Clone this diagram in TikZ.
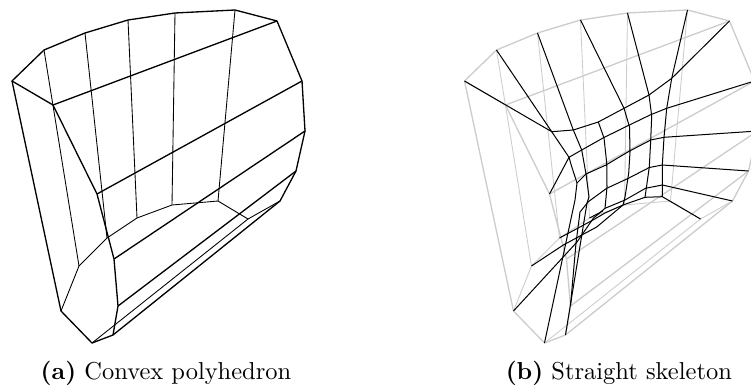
\documentclass[tikz,border=0pt]{standalone}
\usepackage{xcolor}
\usetikzlibrary{positioning}
\definecolor{shellgray}{gray}{0.80}
\tikzset{
  hulledge/.style={line width=0.55pt,line join=round},
  facetedge/.style={line width=0.36pt,line join=round},
  skeledge/.style={line width=0.42pt,black,line join=round},
  caption/.style={anchor=base,inner sep=0pt,font=\fontsize{10.2}{12}\selectfont}
}
\newcommand{\convexhull}{%
  \coordinate (a) at (12,81);  \coordinate (b) at (44,50);
  \coordinate (c) at (85,33);  \coordinate (d) at (128,20);
  \coordinate (e) at (175,13); \coordinate (f) at (235,10);
  \coordinate (g) at (277,21); \coordinate (h) at (302,81);
  \coordinate (i) at (305,131); \coordinate (j) at (296,171);
  \coordinate (k) at (280,201); \coordinate (l) at (113,335);
  \coordinate (m) at (92,343); \coordinate (n) at (61,311);
  \coordinate (p) at (53,105); \coordinate (q) at (97,194);
  \coordinate (r) at (114,259); \coordinate (s) at (118,306);
  \coordinate (u) at (79,266); \coordinate (v) at (107,238);
  \coordinate (w) at (137,218); \coordinate (x) at (172,205);
  \coordinate (y) at (218,201); \coordinate (z) at (248,219);
  \draw[hulledge] (a) -- (b) -- (c) -- (d) -- (e) -- (f) -- (g) -- (h) -- (i) -- (j) -- (k)
    -- (l) -- (m) -- (n) -- cycle;
  \draw[hulledge] (a) -- (p) -- (g);
  \draw[hulledge] (p) -- (q) -- (r) -- (s) -- (l);
  \draw[hulledge] (q) -- (h);
  \draw[hulledge] (r) -- (i);
  \draw[hulledge] (s) -- (j);
  \draw[facetedge] (n) -- (u) -- (v) -- (w) -- (x) -- (y) -- (z) -- (k);
  \draw[facetedge] (z) -- (m);
  \foreach \upper/\lower in {b/u,c/v,d/w,e/x,f/y}
    \draw[facetedge] (\upper) -- (\lower);
}
\begin{document}
\begin{tikzpicture}[x=0.4167pt,y=-0.4167pt]
\clip (0,0) rectangle (751,387);

% LEFT PANEL
\convexhull
\node[caption] (capa) at (166,379) {\textbf{(a)} Convex polyhedron};

% RIGHT PANEL
\begin{scope}[xshift=188.55pt,color=shellgray]
\convexhull
\end{scope}
\node[caption] (capb) at (618.8,379) {\textbf{(b)} Straight skeleton};

% arcs from the outer vertices
\draw[skeledge] (a) -- (551.7,131.7) -- (b);
\draw[skeledge] (551.7,131.7) -- (573.3,130) -- (c);
% rings
\draw[skeledge] (573.3,130) -- (598.3,122) -- (624,108.3) -- (649,95) -- (671.7,78.3) -- (g);
\draw[skeledge] (q) -- (569,157.3) -- (581.7,150) -- (603,138) -- (627.3,126) -- (650,115) -- (666.7,108.3) -- (h);
\draw[skeledge] (569,157.3) -- (551.7,131.7);
\draw[skeledge] (577,183) -- (586,174) -- (606,165) -- (628.3,151.7) -- (650.7,140) -- (664,137.3) -- (i);
\draw[skeledge] (576,243) -- (580,212) -- (588.3,201.7) -- (606.7,188.3) -- (628.3,178.3) -- (649.3,167.5) -- (662.3,165) -- (j);
\draw[skeledge] (n) -- (577,242) -- (593.3,218.3) -- (605,208.3) -- (625,200) -- (645.5,188.3) -- (662.3,185) -- (k);
\draw[skeledge] (v) -- (593,220) -- (605,213) -- (623,205) -- (645,197.3) -- (662.3,196.7) -- (z);
\draw[skeledge] (u) -- (563.3,245) -- (596.7,227) -- (623,205);
\draw[skeledge] (w) -- (603,211);
% cross lines
\draw[skeledge] (569,157.3) -- (571.7,166.7) -- (577,183) -- (575,200) -- (m);
\draw[skeledge] (573.3,130) -- (581.7,150) -- (586,174) -- (589,197) -- (587,203) -- (l);
\draw[skeledge] (s) -- (576,243);
\draw[skeledge] (d) -- (624,108.3) -- (629.5,127) -- (630,152) -- (628.7,173) -- (625,197) -- (623,205);
\draw[skeledge] (598.3,122) -- (604,138) -- (606.7,163) -- (607,187) -- (605,208.3);
\draw[skeledge] (e) -- (649,95) -- (651.7,116) -- (650.7,140) -- (649.3,167) -- (645,197.3);
\draw[skeledge] (f) -- (671.7,78.3) -- (666.7,108.3) -- (664,137.3) -- (662.3,165) -- (662.3,196.7);
\end{tikzpicture}
\end{document}
